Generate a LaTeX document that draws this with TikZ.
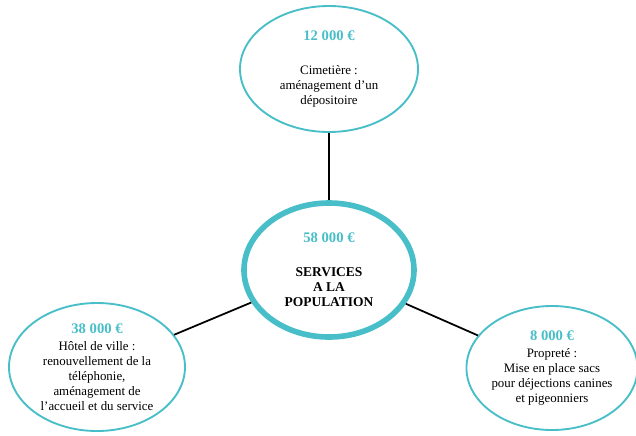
\documentclass[tikz,border=0pt]{standalone}
\usepackage{fontspec}
\setmainfont{Liberation Serif}
\usetikzlibrary{positioning,shapes.geometric}
\definecolor{budgetteal}{RGB}{72,190,200}
\tikzset{
  bubble/.style={ellipse, draw=budgetteal, line width=1.6pt, align=center, inner sep=0pt,
                 font=\fontsize{11}{12.8}\selectfont},
  hub/.style={bubble, line width=4.8pt},
  link/.style={draw=black, line width=1.5pt},
}
\newcommand{\amount}[1]{{\fontsize{12.5}{14}\selectfont\bfseries\color{budgetteal}#1}}

\begin{document}
\begin{tikzpicture}[x=0.03cm, y=-0.03cm]
  \useasboundingbox (0,0) rectangle (636,435);

  \node[hub, minimum width=5.1cm, minimum height=4.02cm] (services) at (329,270)
    {\amount{58 000 €}\\[16pt]
     {\fontsize{11.5}{12.3}\selectfont\bfseries SERVICES}\\
     {\fontsize{11.5}{12.3}\selectfont\bfseries A LA}\\
     {\fontsize{11.5}{12.3}\selectfont\bfseries POPULATION}};
  \node[bubble, minimum width=5.34cm, minimum height=3.78cm] (cimetiere) at (329,69)
    {\amount{12 000 €}\\[16pt]
     Cimetière :\\ aménagement d’un\\ dépositoire};
  \node[bubble, minimum width=5.28cm, minimum height=3.84cm] (hotel) at (97,367)
    {\amount{38 000 €}\\[2pt]
     Hôtel de ville :\\ renouvellement de la\\ téléphonie,\\
     aménagement de\\ l’accueil et du service};
  \node[bubble, minimum width=4.74cm, minimum height=3.72cm] (proprete) at (552,368)
    {\amount{8 000 €}\\[2pt]
     Propreté :\\ Mise en place sacs\\ pour déjections canines\\ et pigeonniers};

  \draw[link] (services) -- (cimetiere);
  \draw[link] (services) -- (hotel);
  \draw[link] (services) -- (proprete);

\end{tikzpicture}
\end{document}
